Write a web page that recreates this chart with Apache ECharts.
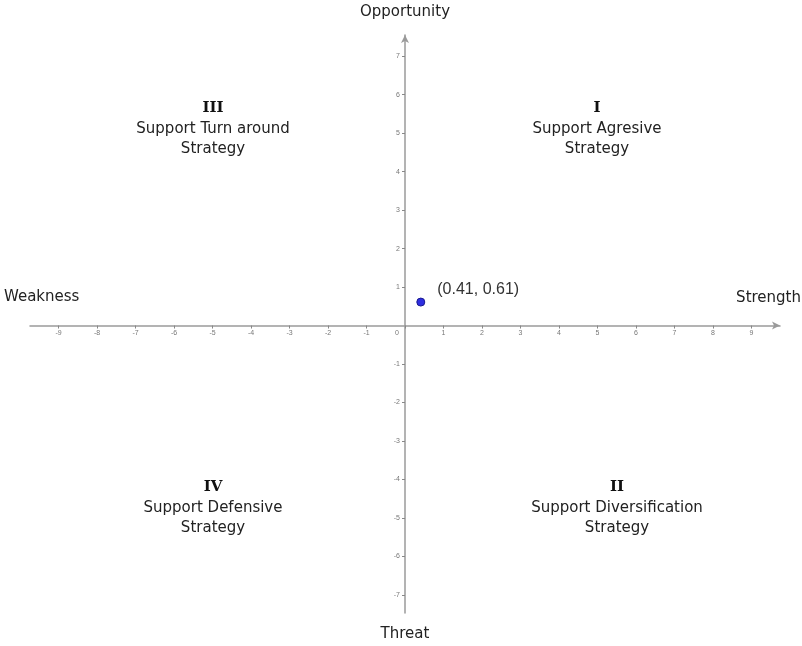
<!DOCTYPE html>
<html>
<head>
<meta charset="utf-8">
<script src="https://cdn.jsdelivr.net/npm/echarts@6/dist/echarts.min.js"></script>
<style>
  html, body { margin: 0; padding: 0; background: #fff; }
  #main { width: 802px; height: 646px; }
</style>
</head>
<body>
<div id="main"></div>
<script>
// data
var xRange = [-9.74, 9.74];
var yRange = [-7.47, 7.55];
var xTicks = [-9, -8, -7, -6, -5, -4, -3, -2, -1, 0, 1, 2, 3, 4, 5, 6, 7, 8, 9];
var yTicks = [-7, -6, -5, -4, -3, -2, -1, 1, 2, 3, 4, 5, 6, 7];
var pointName = '(0.41, 0.61)';
var pointXY = [0.41, 0.61];
var quadrantNums = ['III', 'I', 'IV', 'II'];
var quadrantTexts = ['Support Turn around\nStrategy', 'Support Agresive\nStrategy', 'Support Defensive\nStrategy', 'Support Diversification\nStrategy'];
var axisNames = ['Opportunity', 'Threat', 'Weakness', 'Strength'];

var myChart = echarts.init(document.getElementById('main'));

var fontMain = '"DejaVu Sans", Verdana, sans-serif';
var lineCol = '#9a9a9a';
var gridBox = { left: 30, right: 22, top: 35, bottom: 33 };

//象限文字
var quadPos = [[213, 108], [597, 108], [213, 487], [617, 487]];
var graphics = [];
for (var i = 0; i < quadrantNums.length; i++) {
    graphics.push({
        type: 'text', x: quadPos[i][0], y: quadPos[i][1],
        style: { text: quadrantNums[i], font: 'bold 15px "DejaVu Serif", "Liberation Serif", serif', fill: '#111', align: 'center', verticalAlign: 'middle' }
    });
    graphics.push({
        type: 'text', x: quadPos[i][0], y: quadPos[i][1] + 11,
        style: { text: quadrantTexts[i], font: '15px ' + fontMain, fill: '#222', align: 'center', verticalAlign: 'top', lineHeight: 20 }
    });
}
// 轴名称
graphics.push({ type: 'text', x: 405, y: 12, style: { text: axisNames[0], font: '15px ' + fontMain, fill: '#222', align: 'center', verticalAlign: 'middle' } });
graphics.push({ type: 'text', x: 405, y: 634, style: { text: axisNames[1], font: '15px ' + fontMain, fill: '#222', align: 'center', verticalAlign: 'middle' } });
graphics.push({ type: 'text', x: 4, y: 297, style: { text: axisNames[2], font: '15px ' + fontMain, fill: '#222', align: 'left', verticalAlign: 'middle' } });
graphics.push({ type: 'text', x: 801, y: 298, style: { text: axisNames[3], font: '15px ' + fontMain, fill: '#222', align: 'right', verticalAlign: 'middle' } });

var option = {
    backgroundColor: '#fff',
    animation: false,
    grid: gridBox,
    xAxis: {
        type: 'value',
        min: xRange[0], max: xRange[1],
        splitLine: { show: false },
        axisLine: { onZero: false, lineStyle: { color: lineCol, width: 1.5 }, symbol: ['none', 'arrow'], symbolSize: [6, 8] },
        axisTick: { show: true, length: 3, customValues: xTicks, lineStyle: { color: '#888' } },
        axisLabel: {
            fontSize: 7, color: '#777', margin: 4, customValues: xTicks,
            formatter: function (v) {
                if (v === 0) return '{z|0}';
                return String(v);
            },
            rich: { z: { fontSize: 7, color: '#777', padding: [0, 16, 0, 0] } }
        }
    },
    yAxis: {
        type: 'value',
        min: yRange[0], max: yRange[1],
        splitLine: { show: false },
        axisLine: { onZero: false, lineStyle: { color: lineCol, width: 1.5 }, symbol: ['none', 'arrow'], symbolSize: [6, 8] },
        axisTick: { show: true, length: 3, customValues: yTicks, lineStyle: { color: '#888' } },
        axisLabel: {
            fontSize: 7, color: '#777', margin: 5, customValues: yTicks
        }
    },
    series: [{
        type: 'scatter',
        data: [{ name: pointName, value: pointXY }],
        symbolSize: 8,
        itemStyle: { color: '#2e2ee0', borderColor: '#1a1a90', borderWidth: 1, opacity: 1 },
        label: {
            show: true, position: [21, -16], formatter: '{b}',
            fontFamily: '"Liberation Sans", Arial, sans-serif', fontSize: 16, color: '#333'
        }
    }],
    graphic: graphics
};
myChart.setOption(option);

// 把坐标轴移到原点位置（标签一起移动）
var zeroX = myChart.convertToPixel({ xAxisIndex: 0 }, 0);
var zeroY = myChart.convertToPixel({ yAxisIndex: 0 }, 0);
var bottomEdge = 646 - gridBox.bottom;
myChart.setOption({
    xAxis: { offset: zeroY - bottomEdge },
    yAxis: { offset: gridBox.left - zeroX }
});
</script>
</body>
</html>
